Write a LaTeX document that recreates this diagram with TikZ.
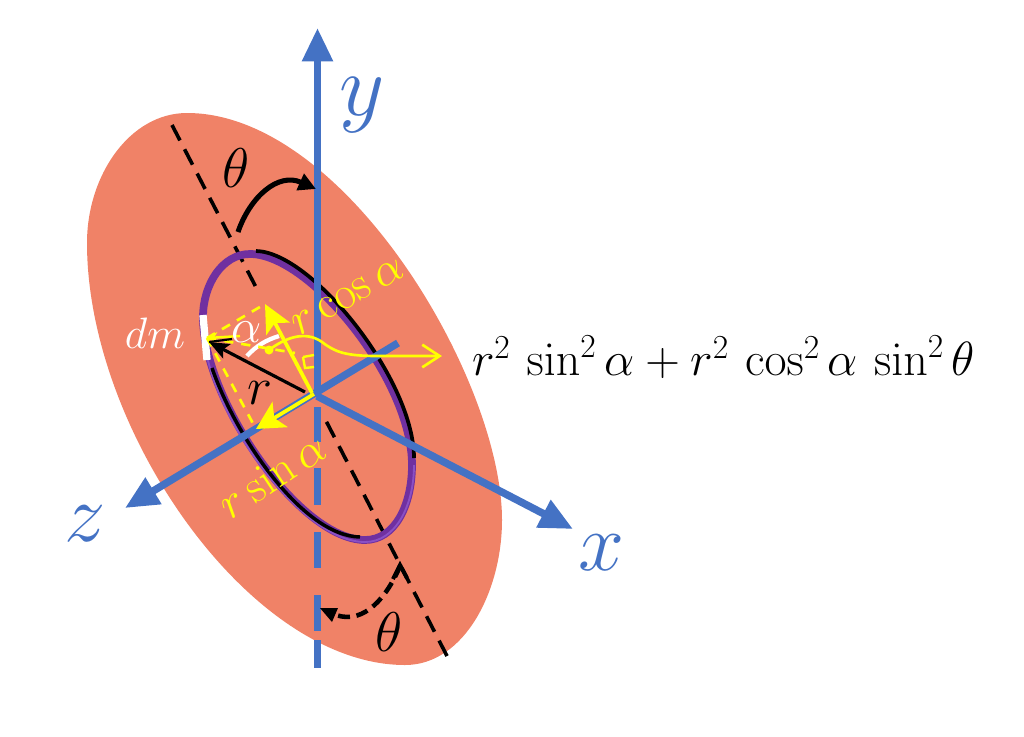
\documentclass[tikz,border=0pt]{standalone}
\usepackage{fix-cm}
\usetikzlibrary{arrows.meta}
\definecolor{disk}{HTML}{F08267}
\definecolor{axisblue}{HTML}{4472C4}
\definecolor{ringp}{HTML}{7030A0}
\definecolor{ringl}{HTML}{8A50C4}
\definecolor{yel}{HTML}{FFFF00}
\newcommand{\fs}[1]{\fontsize{#1}{#1}\selectfont}
\tikzset{
 x=0.75pt,y=-0.75pt,
 axisline/.style={draw=axisblue,line width=5.6pt},
 axisarrow/.style={axisline,-{Triangle[length=25pt,width=22pt]}},
 blackdash/.style={draw=black,line width=2.7pt,dash pattern=on 13pt off 7.5pt},
 yline/.style={draw=yel,line width=2.8pt},
 ydash/.style={draw=yel,line width=2pt,dash pattern=on 7pt off 6pt},
 lab/.style={inner sep=0pt,outer sep=0pt},
}
\begin{document}
\begin{tikzpicture}
\useasboundingbox (0,0) rectangle (1024,736);
% named points
\coordinate (O) at (317,396);
\coordinate (yTop) at (317.5,28);
\coordinate (xTip) at (573,529);
\coordinate (zTip) at (125,508);
\coordinate (zEnd) at (398,343);
\coordinate (tipCos) at (265,304);
\coordinate (tipSin) at (256,429);
\coordinate (tipR) at (209,342);
\coordinate (tipLeft) at (207,338);
% disk
\fill[disk] (187,113) .. controls (130,113) and (87,175) .. (87,243)
  .. controls (87,430) and (250,665) .. (405,665)
  .. controls (465,665) and (502,590) .. (502,520)
  .. controls (502,380) and (345,113) .. (187,113) -- cycle;
% dashed tilted axis
\coordinate (dA) at (172,125); \coordinate (dB) at (259,293);
\coordinate (dC) at (323,415); \coordinate (dD) at (447,656);
\draw[blackdash] (dA) -- (dB);
\draw[blackdash] (dD) -- (dC);
% ring
\draw[ringp,line width=5.8pt] (250,254) .. controls (222,254) and (203,285) .. (203,317)
  .. controls (203,400) and (300,540) .. (365,540)
  .. controls (395,540) and (412,505) .. (412,465)
  .. controls (412,380) and (310,254) .. (250,254) -- cycle;
\draw[ringl,line width=1.4pt] (205,345) .. controls (215,420) and (302,542) .. (365,542)
  .. controls (396,542) and (414,505) .. (414,465);
\draw[black,line width=2.8pt] (414,458) .. controls (414,380) and (312,252) .. (256,251);
\draw[black,line width=2.6pt] (212,368) .. controls (235,435) and (302,536) .. (360,537);
% y axis
\draw[axisarrow] (317.5,397) -- (yTop);
\foreach \a/\b in {407/442,468/505,532/568,595/631,640/668}
  \draw[axisline] (317.5,\a) -- (317.5,\b);
% x, z axes
\draw[axisarrow] (O) -- (xTip);
\draw[axisarrow] (zEnd) -- (zTip);
% white marks
\draw[white,line width=5.5pt] (203,315) -- (207,360);
\draw[white,line width=3.2pt] (247,356) .. controls (256,346) and (266,340) .. (279,336);
% yellow dashed construction
\draw[ydash] (tipLeft) -- (tipCos);
\draw[ydash] (tipLeft) -- (tipSin);
\draw[ydash] (tipLeft) -- (295,353);
% right-angle mark
\draw[draw=yel,line width=1.8pt] (303,357) -- (314,355);
\draw[draw=yel,line width=1.8pt] (303,357) -- (305,368) -- (314,367);
% yellow arrows
\draw[yline,-{Stealth[length=21pt,width=20pt,inset=5pt]}] (312,393) -- (tipCos);
\draw[yline,-{Stealth[length=21pt,width=22pt,inset=5pt]}] (314,394) -- (tipSin);
\draw[yline,line width=1.8pt,-{Stealth[length=8pt,width=8pt]}] (240,336) -- (tipLeft);
% black r arrow
\draw[black,line width=2.4pt,-{Stealth[length=15pt,width=12pt,inset=3pt]}] (305,392) -- (tipR);
\draw[black,line width=1.6pt] (tipR) -- (232,339);
% yellow dot and curve
\fill[yel] (269,350) circle (4.5);
\draw[yel,line width=2pt,-{Straight Barb[length=13pt,width=17pt]}] (269,350) .. controls (285,338) and (305,330) .. (322,342) .. controls (335,352) and (345,356) .. (378,356) -- (442,356);
% curved theta arrows
\draw[black,line width=3.8pt,-{Triangle[length=13pt,width=13pt]}] (238,232) .. controls (250,197) and (278,172) .. (316,189);
\draw[black,line width=3.4pt,dash pattern=on 9pt off 5pt] (400,566) .. controls (388,595) and (365,625) .. (336,615);
\draw[black,line width=3pt] (393,579) -- (400,565) -- (407,578);
\fill[black] (320,608) -- (338,608) -- (332,622) -- cycle;
% labels
\node[lab,text=axisblue] (ly) at (362,105) {\fs{66}$y$};
\node[lab,text=axisblue] (lx) at (601,553) {\fs{62}$x$};
\node[lab,text=axisblue] (lz) at (85,524) {\fs{62}$z$};
\node[lab,text=black] (lt1) at (236,168) {\fs{42}$\theta$};
\node[lab,text=black] (lt2) at (389,632) {\fs{42}$\theta$};
\node[lab,text=white] (ldm) at (155,333) {\fs{33}$dm$};
\node[lab,text=white] (la) at (247,332) {\fs{36}$\alpha$};
\node[lab,text=black] (lr) at (260,393) {\fs{40}$r$};
\node[lab,text=yel,rotate=29.5] (lcos) at (348,297) {\fs{35}$r\cos\alpha$};
\node[lab,text=yel,rotate=33.5] (lsin) at (272,475) {\fs{35}$r\sin\alpha$};
\node[lab,text=black,anchor=west] (lf) at (472,357) {\fs{36}$r^2\,\sin^2\alpha+r^2\,\cos^2\alpha\,\sin^2\theta$};
\end{tikzpicture}
\end{document}
